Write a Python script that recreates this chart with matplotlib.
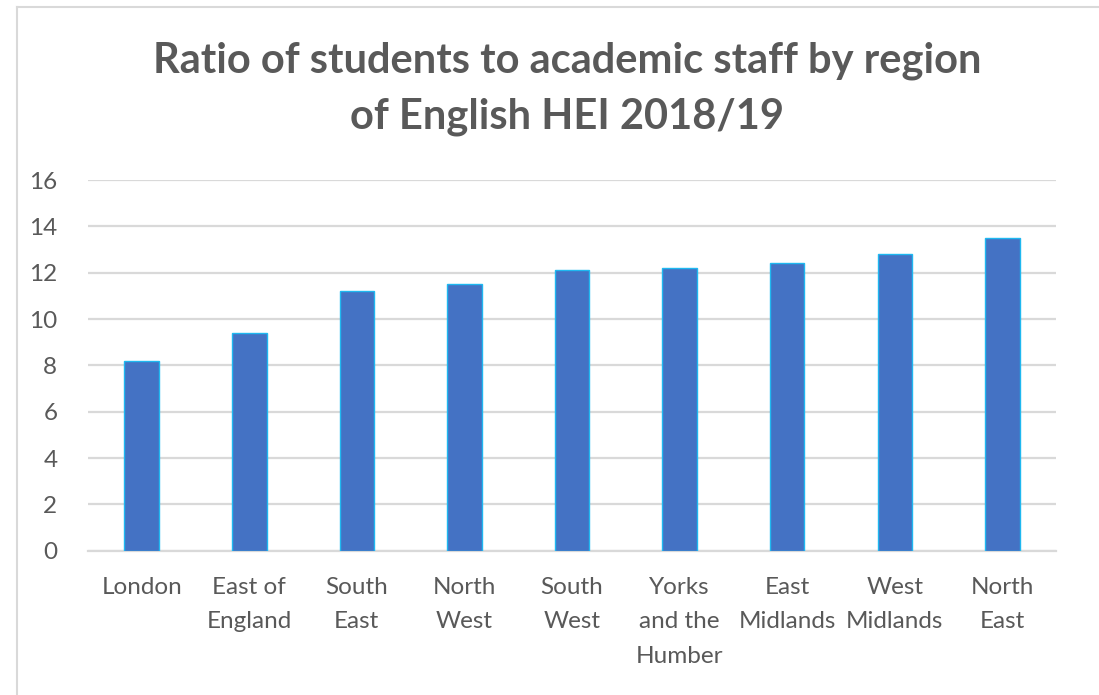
import matplotlib.pyplot as plt
from matplotlib.lines import Line2D

# ---- data ----
regions = ['London', 'East of\nEngland', 'South\nEast', 'North\nWest', 'South\nWest',
           'Yorks\nand the\nHumber', 'East\nMidlands', 'West\nMidlands', 'North\nEast']
ratio = [8.2, 9.4, 11.2, 11.5, 12.1, 12.2, 12.4, 12.8, 13.5]
yticks = [0, 2, 4, 6, 8, 10, 12, 14, 16]

text_grey = '#595959'
grid_grey = '#D9D9D9'

plt.rcParams['font.family'] = ['Lato', 'DejaVu Sans']

fig = plt.figure(figsize=(10.99, 6.95), dpi=100)
ax = fig.add_axes([0.080, 0.2076, 0.881, 0.5334])

x = list(range(len(regions)))
ax.bar(x, ratio, width=0.32, color='#4472C4', edgecolor='#1FB8F0', linewidth=1.0, zorder=3)

ax.set_xlim(-0.5, len(regions) - 0.5)
ax.set_ylim(0, 16)
ax.set_yticks(yticks)
ax.set_xticks(x)
ax.set_xticklabels(regions, linespacing=1.78)

ax.tick_params(axis='both', length=0, labelsize=17.5, colors=text_grey)
ax.tick_params(axis='y', pad=22)
ax.tick_params(axis='x', pad=19)
ax.yaxis.grid(True, color=grid_grey, linewidth=1.6, zorder=0)
for s in ['top', 'right', 'left']:
    ax.spines[s].set_visible(False)
ax.spines['bottom'].set_color(grid_grey)
ax.spines['bottom'].set_linewidth(1.6)

# title
fig.text(0.516, 0.872, 'Ratio of students to academic staff by region\nof English HEI 2018/19',
         ha='center', va='center', fontsize=30, fontweight='bold', color=text_grey,
         linespacing=1.55)

# chart frame (left and top edges)
fig.add_artist(Line2D([17 / 1099, 17 / 1099], [0, 1 - 7 / 695], transform=fig.transFigure,
                      color='#D9D9D9', linewidth=1.5))
fig.add_artist(Line2D([17 / 1099, 1], [1 - 7 / 695, 1 - 7 / 695], transform=fig.transFigure,
                      color='#D9D9D9', linewidth=1.5))

fig.savefig('out.png', dpi=100, facecolor='white')
